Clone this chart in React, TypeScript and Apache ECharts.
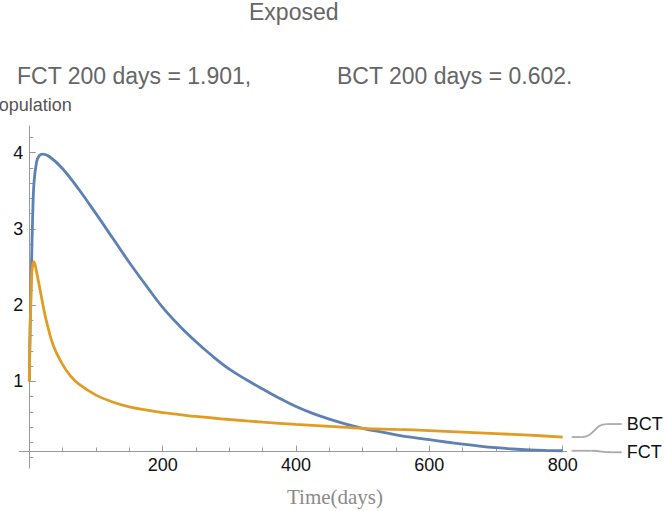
import React, { useEffect, useRef } from "react";
import * as echarts from "echarts";

// ---- data ----
const fctDays = [0, 1, 2, 3.5, 5, 7, 11, 15, 20, 30, 50, 75, 100, 125, 150, 175, 200, 225, 250, 275, 300, 325, 350, 375, 400, 425, 450, 475, 500, 525, 550, 575, 600, 625, 650, 675, 700, 725, 750, 775, 800];
const fctValues = [1.0, 1.55, 2.05, 2.6, 3.15, 3.6, 3.88, 3.96, 3.98, 3.95, 3.79, 3.51, 3.2, 2.88, 2.56, 2.26, 1.97, 1.73, 1.52, 1.33, 1.16, 1.025, 0.9, 0.78, 0.67, 0.58, 0.505, 0.44, 0.385, 0.34, 0.3, 0.265, 0.235, 0.205, 0.178, 0.152, 0.13, 0.113, 0.101, 0.094, 0.09];
const bctDays = [0, 1, 2.5, 4, 7, 11, 16, 21, 26, 36, 50, 62, 75, 100, 125, 150, 175, 200, 225, 250, 275, 300, 350, 400, 450, 500, 550, 600, 650, 700, 750, 800];
const bctValues = [1.0, 1.6, 2.1, 2.45, 2.57, 2.43, 2.21, 1.98, 1.78, 1.47, 1.22, 1.07, 0.96, 0.82, 0.73, 0.665, 0.625, 0.59, 0.565, 0.54, 0.52, 0.5, 0.465, 0.435, 0.41, 0.385, 0.37, 0.355, 0.335, 0.315, 0.295, 0.27];

const xMajorTicks = [200, 400, 600, 800];
const xMinorTicks = [50, 100, 150, 250, 300, 350, 450, 500, 550, 650, 700, 750];
const yMajorTicks = [1, 2, 3, 4];
const yMinorTicks = [0, 0.2, 0.4, 0.6, 0.8, 1.2, 1.4, 1.6, 1.8, 2.2, 2.4, 2.6, 2.8, 3.2, 3.4, 3.6, 3.8, 4.2];

const titleText = "Exposed";
const fctNote = "FCT 200 days = 1.901,";
const bctNote = "BCT 200 days = 0.602.";
const seriesNames = ["FCT", "BCT"];

const X_MIN = -15;
const X_MAX = 806;
const Y_MIN = -0.136;
const Y_MAX = 4.35;

const BLUE = "#5E81B5";
const ORANGE = "#E19C24";
const AXIS = "#9a9a9a";
const SANS = "'Liberation Sans', Arial, sans-serif";
const SERIF = "'Liberation Serif', 'Times New Roman', serif";

export default function App() {
  const ref = useRef<HTMLDivElement>(null);

  useEffect(() => {
    if (!ref.current) return;
    const chart = echarts.init(ref.current, undefined, { renderer: "svg" });

    const tickLabel = { color: "#111111", fontSize: 18, fontFamily: SANS };

    const option: any = {
      animation: false,
      backgroundColor: "#ffffff",
      title: [
        { text: titleText, left: 249, top: 0, padding: 0, textStyle: { color: "#666666", fontSize: 23, fontWeight: "normal", fontFamily: SANS } },
        { text: fctNote, left: 17, top: 64, padding: 0, textStyle: { color: "#666666", fontSize: 23, fontWeight: "normal", fontFamily: SANS } },
        { text: bctNote, left: 337, top: 64, padding: 0, textStyle: { color: "#666666", fontSize: 23, fontWeight: "normal", fontFamily: SANS } },
      ],
      grid: { left: 19.3, right: 99.3, top: 126, bottom: 43, containLabel: false, outerBoundsMode: "none" },
      xAxis: [
        {
          type: "value", position: "bottom", min: X_MIN, max: X_MAX, offset: -17,
          name: "Time(days)", nameLocation: "middle", nameGap: 35,
          nameTextStyle: { color: "#8a8a8a", fontSize: 21, fontFamily: SERIF, align: "center", padding: [0, 0, 0, 84] },
          axisLine: { show: true, onZero: false, lineStyle: { color: AXIS, width: 1 } },
          axisTick: { show: true, inside: true, length: 5.5, customValues: xMajorTicks, lineStyle: { color: AXIS } },
          axisLabel: { show: true, customValues: xMajorTicks, margin: 5, ...tickLabel },
          splitLine: { show: false },
        },
        {
          type: "value", position: "bottom", min: X_MIN, max: X_MAX, offset: -17,
          axisLine: { show: false, onZero: false },
          axisTick: { show: true, inside: true, length: 3.5, customValues: xMinorTicks, lineStyle: { color: AXIS } },
          axisLabel: { show: false },
          splitLine: { show: false },
        },
      ],
      yAxis: [
        {
          type: "value", position: "left", min: Y_MIN, max: Y_MAX, offset: -10,
          name: "Population", nameLocation: "end", nameGap: 12,
          nameTextStyle: { color: "#555555", fontSize: 18, fontFamily: SANS, align: "center", verticalAlign: "bottom" },
          axisLine: { show: true, onZero: false, lineStyle: { color: AXIS, width: 1 } },
          axisTick: { show: true, inside: true, length: 6.5, customValues: yMajorTicks, lineStyle: { color: AXIS } },
          axisLabel: { show: true, customValues: yMajorTicks, margin: 6, ...tickLabel },
          splitLine: { show: false },
        },
        {
          type: "value", position: "left", min: Y_MIN, max: Y_MAX, offset: -10,
          axisLine: { show: false, onZero: false },
          axisTick: { show: true, inside: true, length: 4, customValues: yMinorTicks, lineStyle: { color: AXIS } },
          axisLabel: { show: false },
          splitLine: { show: false },
        },
      ],
      series: [
        {
          name: seriesNames[0], type: "line", xAxisIndex: 0, yAxisIndex: 0,
          data: fctDays.map((d, i) => [d, fctValues[i]]),
          showSymbol: false, smooth: 0.4,
          lineStyle: { color: BLUE, width: 2.8 }, itemStyle: { color: BLUE }, z: 2,
        },
        {
          name: seriesNames[1], type: "line", xAxisIndex: 0, yAxisIndex: 0,
          data: bctDays.map((d, i) => [d, bctValues[i]]),
          showSymbol: false, smooth: 0.4,
          lineStyle: { color: ORANGE, width: 2.8 }, itemStyle: { color: ORANGE }, z: 3,
        },
      ],
    };
    chart.setOption(option);

    // callout labels at the line ends, positioned via the chart's own scales
    const pF = chart.convertToPixel({ seriesIndex: 0 }, [fctDays[fctDays.length - 1], fctValues[fctValues.length - 1]]) as number[];
    const pB = chart.convertToPixel({ seriesIndex: 1 }, [bctDays[bctDays.length - 1], bctValues[bctValues.length - 1]]) as number[];
    const leaderStyle = { stroke: "#aaaaaa", lineWidth: 1.8, fill: "none" };
    const callout = (p: number[], labelY: number, text: string, bendStart: number, bendEnd: number) => {
      const x0 = p[0] + 9;
      const y0 = p[1];
      const mid = x0 + (bendStart + bendEnd) / 2;
      return [
        { type: "line", shape: { x1: x0, y1: y0, x2: x0 + bendStart, y2: y0 }, style: leaderStyle, silent: true },
        {
          type: "bezierCurve",
          shape: { x1: x0 + bendStart, y1: y0, x2: x0 + bendEnd, y2: labelY, cpx1: mid, cpy1: y0, cpx2: mid, cpy2: labelY },
          style: leaderStyle, silent: true,
        },
        { type: "line", shape: { x1: x0 + bendEnd, y1: labelY, x2: x0 + 50, y2: labelY }, style: leaderStyle, silent: true },
        {
          type: "text", x: x0 + 55, y: labelY,
          style: { text, fill: "#111111", font: `18px ${SANS}`, textAlign: "left", textVerticalAlign: "middle" },
          silent: true,
        },
      ];
    };
    chart.setOption({
      graphic: [
        ...callout(pB, pB[1] - 13, seriesNames[1], 10, 35),
        ...callout(pF, pF[1] + 1.5, seriesNames[0], 20, 40),
      ],
    });

    return () => chart.dispose();
  }, []);

  return <div ref={ref} style={{ position: "absolute", left: 0, top: 0, width: 666, height: 511 }} />;
}
